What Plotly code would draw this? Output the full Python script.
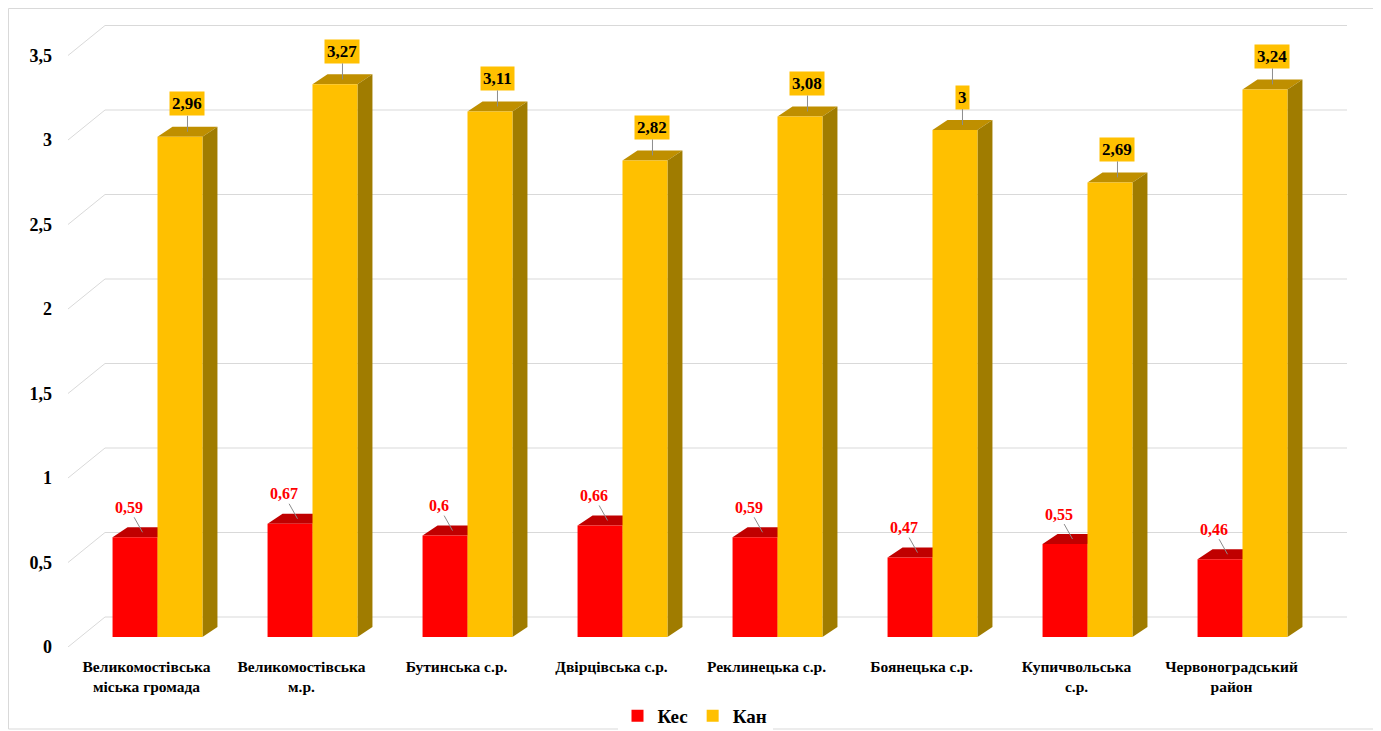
import plotly.graph_objects as go

categories = [
    "Великомостівська<br>міська громада",
    "Великомостівська<br>м.р.",
    "Бутинська с.р.",
    "Двірцівська с.р.",
    "Реклинецька с.р.",
    "Боянецька с.р.",
    "Купичвольська<br>с.р.",
    "Червоноградський<br>район",
]
kes = [0.59, 0.67, 0.6, 0.66, 0.59, 0.47, 0.55, 0.46]
kan = [2.96, 3.27, 3.11, 2.82, 3.08, 3.0, 2.69, 3.24]
y_ticks = [0, 0.5, 1, 1.5, 2, 2.5, 3, 3.5]

# page body has an 8px margin, so the figure is drawn 8px smaller
OFF = 8
W, H = 1381 - OFF, 731 - OFF
PX_X = 155.0   # pixels per category
PX_Y = 169.0   # pixels per value unit
BAR_W = 0.29
# pseudo-3D offsets in pixels (dx right, dy up)
BACK = (25, 20)
FRONT = (-12, -10)
DEPTH = (15, 10)

RED, RED_TOP = "#FF0000", "#C00000"
YEL, YEL_TOP, YEL_SIDE = "#FFC000", "#BF8F00", "#A07C00"
GRID = "#D9D9D9"
FONT = "Liberation Serif"

x_lo = -0.5 + FRONT[0] / PX_X
x_hi = len(categories) - 0.5 + 27 / PX_X
y_lo = FRONT[1] / PX_Y
y_hi = 617 / PX_Y
m_l = 68 - OFF
m_t = 20 - OFF
plot_w = round((x_hi - x_lo) * PX_X)
plot_h = round((y_hi - y_lo) * PX_Y)
m_r = W - m_l - plot_w
m_b = H - m_t - plot_h


def dx(p):
    return p / PX_X


def dy(p):
    return p / PX_Y


def paper_x(px):
    return (px - OFF - m_l) / plot_w


def paper_y(py):
    return (H - m_b - (py - OFF)) / plot_h


x = list(range(len(categories)))
x_red = [i - BAR_W / 2 for i in x]
x_yel = [i + BAR_W / 2 for i in x]

fig = go.Figure()
fig.add_trace(go.Bar(x=x_red, y=kes, width=BAR_W, name="Кес",
                     marker=dict(color=RED, line=dict(width=0))))
fig.add_trace(go.Bar(x=x_yel, y=kan, width=BAR_W, name="Кан",
                     marker=dict(color=YEL, line=dict(width=0))))

shapes = []
# back wall gridlines and left-wall diagonals
for v in y_ticks:
    bx0 = -0.5 + dx(BACK[0])
    by = v + dy(BACK[1])
    shapes.append(dict(type="line", xref="x", yref="y", x0=bx0, x1=x_hi, y0=by, y1=by,
                       line=dict(color=GRID, width=1), layer="below"))
    shapes.append(dict(type="line", xref="x", yref="y",
                       x0=-0.5 + dx(FRONT[0]), y0=v + dy(FRONT[1]), x1=bx0, y1=by,
                       line=dict(color=GRID, width=1), layer="below"))


def box_faces(xc, v, top_col, side_col):
    x0, x1 = xc - BAR_W / 2, xc + BAR_W / 2
    ddx, ddy = dx(DEPTH[0]), dy(DEPTH[1])
    top = f"M{x0},{v} L{x1},{v} L{x1 + ddx},{v + ddy} L{x0 + ddx},{v + ddy} Z"
    side = f"M{x1},0 L{x1},{v} L{x1 + ddx},{v + ddy} L{x1 + ddx},{ddy} Z"
    return [
        dict(type="path", xref="x", yref="y", path=top, fillcolor=top_col,
             line=dict(width=0), layer="below"),
        dict(type="path", xref="x", yref="y", path=side, fillcolor=side_col,
             line=dict(width=0), layer="below"),
    ]


for xr, v in zip(x_red, kes):
    shapes += box_faces(xr, v, RED_TOP, RED_TOP)
for xy, v in zip(x_yel, kan):
    shapes += box_faces(xy, v, YEL_TOP, YEL_SIDE)

# outer frame
shapes.append(dict(type="rect", xref="paper", yref="paper",
                   x0=paper_x(8.5), x1=paper_x(1375), y0=paper_y(729), y1=paper_y(8.5),
                   line=dict(color="#D9D9D9", width=1), layer="below"))

annotations = []
for xr, v in zip(x_red, kes):
    annotations.append(dict(
        x=xr + dx(DEPTH[0]) / 2, y=v + dy(DEPTH[1]) / 2, xref="x", yref="y",
        text=f"{v:g}".replace(".", ","), showarrow=True, arrowhead=0, arrowwidth=1,
        arrowcolor="#8C8C8C", ax=-14, ay=-25,
        font=dict(family=FONT, size=16, color=RED, weight="bold"),
    ))
for xy, v in zip(x_yel, kan):
    annotations.append(dict(
        x=xy + dx(DEPTH[0]) / 2, y=v + dy(DEPTH[1]) / 2, xref="x", yref="y",
        text=f"{v:g}".replace(".", ","), showarrow=True, arrowhead=0, arrowwidth=1,
        arrowcolor="#8C8C8C", ax=0, ay=-28, bgcolor=YEL, borderpad=2,
        font=dict(family=FONT, size=17, color="black", weight="bold"),
    ))

fig.update_layout(
    width=W, height=H,
    margin=dict(l=m_l, r=m_r, t=m_t, b=m_b, autoexpand=False),
    paper_bgcolor="white", plot_bgcolor="white",
    separators=", ",
    barmode="overlay",
    shapes=shapes,
    annotations=annotations,
    showlegend=True,
    legend=dict(orientation="h", x=paper_x(695), xanchor="center",
                y=paper_y(716), yanchor="middle", itemwidth=30, tracegroupgap=0,
                font=dict(family=FONT, size=19, color="black", weight="bold")),
    font=dict(family=FONT, color="black"),
)
fig.update_xaxes(
    range=[x_lo, x_hi], tickvals=x, ticktext=categories, showgrid=False, zeroline=False,
    showline=False, ticks="", ticklabelstandoff=8, ticklabelshift=-11, automargin=False,
    tickfont=dict(family=FONT, size=15.5, color="black", weight="bold"),
)
fig.update_yaxes(
    range=[y_lo, y_hi], tickvals=y_ticks, showgrid=False, zeroline=False, showline=False,
    ticks="", ticklabelstandoff=15, ticklabelshift=10, automargin=False,
    tickfont=dict(family=FONT, size=18, color="black", weight="bold"),
)

fig.write_html("out.html")
